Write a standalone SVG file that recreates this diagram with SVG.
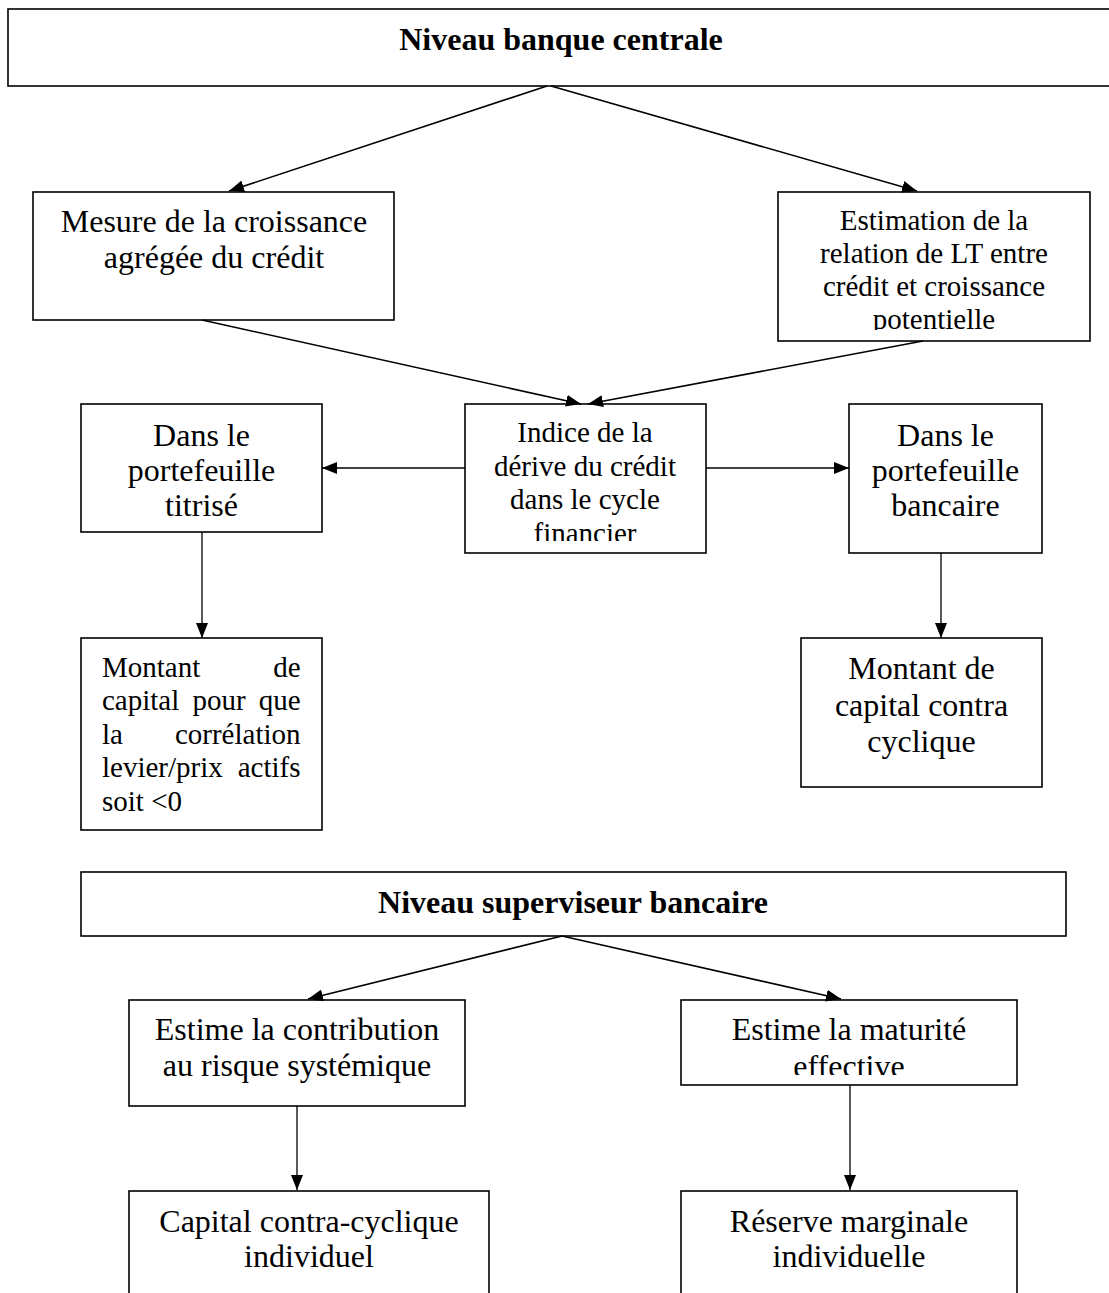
<svg xmlns="http://www.w3.org/2000/svg" width="1109" height="1293" viewBox="0 0 1109 1293">
<style>
.box{fill:#fff;stroke:#000;stroke-width:1.6}
.t{font-family:"Liberation Serif","Times New Roman",serif;fill:#000;text-anchor:middle}
.big{font-size:32px}
.sm{font-size:29px}
.b{font-weight:bold}
.l{text-anchor:start}
.e{text-anchor:end}
.c{stroke:#000;stroke-width:1.6;fill:none;marker-end:url(#ah)}
.v{stroke-width:1.3}
</style>
<defs>
<marker id="ah" viewBox="0 0 15 12" refX="15" refY="6" markerWidth="15" markerHeight="12" orient="auto" markerUnits="userSpaceOnUse"><path d="M0,0 L15,6 L0,12 Z" fill="#000"/></marker>
<clipPath id="cl1"><rect x="778" y="192" width="312" height="138"/></clipPath>
<clipPath id="cl2"><rect x="465" y="404" width="241" height="137"/></clipPath>
<clipPath id="cl3"><rect x="681" y="1000" width="336" height="75"/></clipPath>
</defs>
<rect width="1109" height="1293" fill="#fff"/>
<g id="n-top"><rect class="box" x="8" y="9" width="1110" height="77"/><text class="t big b" x="561" y="50">Niveau banque centrale</text></g>
<g id="n-mesure"><rect class="box" x="33" y="192" width="361" height="128"/><text class="t big" x="214" y="232">Mesure de la croissance</text><text class="t big" x="214" y="268">agrégée du crédit</text></g>
<g id="n-estimation"><rect class="box" x="778" y="192" width="312" height="149"/><g clip-path="url(#cl1)"><text class="t sm" x="934" y="230">Estimation de la</text><text class="t sm" x="934" y="263">relation de LT entre</text><text class="t sm" x="934" y="296">crédit et croissance</text><text class="t sm" x="934" y="329">potentielle</text></g></g>
<g id="n-indice"><rect class="box" x="465" y="404" width="241" height="149"/><g clip-path="url(#cl2)"><text class="t sm" x="585" y="442">Indice de la</text><text class="t sm" x="585" y="475.5">dérive du crédit</text><text class="t sm" x="585" y="509">dans le cycle</text><text class="t sm" x="585" y="542.5">financier</text></g></g>
<g id="n-titrise"><rect class="box" x="81" y="404" width="241" height="128"/><text class="t big" x="201.5" y="446">Dans le</text><text class="t big" x="201.5" y="481">portefeuille</text><text class="t big" x="201.5" y="516">titrisé</text></g>
<g id="n-bancaire"><rect class="box" x="849" y="404" width="193" height="149"/><text class="t big" x="945.5" y="446">Dans le</text><text class="t big" x="945.5" y="481">portefeuille</text><text class="t big" x="945.5" y="516">bancaire</text></g>
<g id="n-montant1"><rect class="box" x="81" y="638" width="241" height="192"/>
<text class="t sm l" x="102" y="677">Montant</text><text class="t sm e" x="300.5" y="677">de</text>
<text class="t sm l" x="102" y="710">capital</text><text class="t sm l" x="192.4" y="710">pour</text><text class="t sm e" x="300.5" y="710">que</text>
<text class="t sm l" x="102" y="744">la</text><text class="t sm e" x="300.5" y="744">corrélation</text>
<text class="t sm l" x="102" y="777">levier/prix</text><text class="t sm e" x="300.5" y="777">actifs</text>
<text class="t sm l" x="102" y="811">soit &lt;0</text></g>
<g id="n-montant2"><rect class="box" x="801" y="638" width="241" height="149"/><text class="t big" x="921.5" y="679">Montant de</text><text class="t big" x="921.5" y="715.5">capital contra</text><text class="t big" x="921.5" y="751.5">cyclique</text></g>
<g id="n-super"><rect class="box" x="81" y="872" width="985" height="64"/><text class="t big b" x="573" y="913">Niveau superviseur bancaire</text></g>
<g id="n-contrib"><rect class="box" x="129" y="1000" width="336" height="106"/><text class="t big" x="297" y="1040">Estime la contribution</text><text class="t big" x="297" y="1076">au risque systémique</text></g>
<g id="n-maturite"><rect class="box" x="681" y="1000" width="336" height="85"/><g clip-path="url(#cl3)"><text class="t big" x="849" y="1040">Estime la maturité</text><text class="t big" x="849" y="1077">effective</text></g></g>
<g id="n-capital"><rect class="box" x="129" y="1191" width="360" height="120"/><text class="t big" x="309" y="1232">Capital contra-cyclique</text><text class="t big" x="309" y="1267">individuel</text></g>
<g id="n-reserve"><rect class="box" x="681" y="1191" width="336" height="120"/><text class="t big" x="849" y="1232">Réserve marginale</text><text class="t big" x="849" y="1267">individuelle</text></g>
<g id="connectors">
<line class="c" x1="547" y1="86" x2="229" y2="191"/>
<line class="c" x1="551" y1="86" x2="917" y2="191"/>
<line class="c" x1="202" y1="320" x2="581" y2="404"/>
<line class="c" x1="923" y1="341" x2="588" y2="404"/>
<line class="c" x1="465" y1="468" x2="322" y2="468"/>
<line class="c" x1="706" y1="468" x2="849" y2="468"/>
<line class="c v" x1="202" y1="532" x2="202" y2="638"/>
<line class="c v" x1="941" y1="553" x2="941" y2="638"/>
<line class="c" x1="562" y1="936" x2="308" y2="999"/>
<line class="c" x1="562" y1="936" x2="841" y2="999"/>
<line class="c v" x1="297" y1="1106" x2="297" y2="1190"/>
<line class="c v" x1="850" y1="1085" x2="850" y2="1190"/>
</g>
</svg>
